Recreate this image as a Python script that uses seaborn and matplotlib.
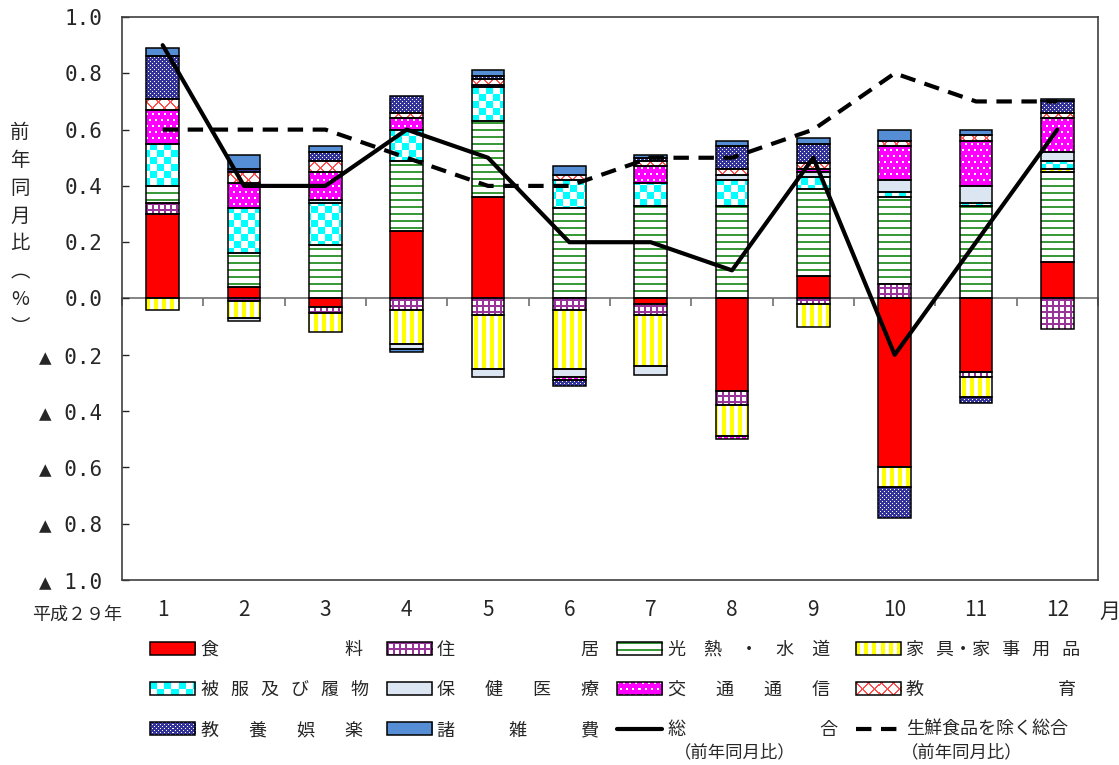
import numpy as np
import matplotlib
matplotlib.use("Agg")
import matplotlib.pyplot as plt
from matplotlib.patches import Rectangle, PathPatch
from matplotlib.path import Path
from matplotlib.lines import Line2D
from matplotlib.legend_handler import HandlerBase
from matplotlib.image import BboxImage
from matplotlib.transforms import Bbox, TransformedBbox
from matplotlib.colors import to_rgb
import seaborn as sns

# 前年同月比（%）, 平成29年
months = ['1', '2', '3', '4', '5', '6', '7', '8', '9', '10', '11', '12']

food      = [0.30, 0.04, -0.03, 0.24, 0.36, 0.00, -0.02, -0.33, 0.08, -0.60, -0.26, 0.13]
housing   = [0.04, -0.01, -0.02, -0.04, -0.06, -0.04, -0.04, -0.05, -0.02, 0.05, -0.02, -0.11]
utilities = [0.06, 0.12, 0.19, 0.25, 0.27, 0.32, 0.33, 0.33, 0.31, 0.31, 0.33, 0.32]
furniture = [-0.04, -0.06, -0.07, -0.12, -0.19, -0.21, -0.18, -0.11, -0.08, -0.07, -0.07, 0.01]
clothing  = [0.15, 0.16, 0.15, 0.11, 0.12, 0.10, 0.08, 0.09, 0.04, 0.02, 0.01, 0.03]
medical   = [0.00, -0.01, 0.01, -0.02, -0.03, -0.03, -0.03, 0.02, 0.02, 0.04, 0.06, 0.03]
transport = [0.12, 0.09, 0.10, 0.04, 0.01, -0.01, 0.06, -0.01, 0.01, 0.12, 0.16, 0.12]
education = [0.04, 0.04, 0.04, 0.02, 0.02, 0.02, 0.02, 0.02, 0.02, 0.02, 0.02, 0.02]
culture   = [0.15, 0.01, 0.03, 0.06, 0.01, -0.02, 0.01, 0.08, 0.07, -0.11, -0.02, 0.04]
misc      = [0.03, 0.05, 0.02, -0.01, 0.02, 0.03, 0.01, 0.02, 0.02, 0.04, 0.02, 0.01]

total = [0.9, 0.4, 0.4, 0.6, 0.5, 0.2, 0.2, 0.1, 0.5, -0.2, 0.2, 0.6]
core  = [0.6, 0.6, 0.6, 0.5, 0.4, 0.4, 0.5, 0.5, 0.6, 0.8, 0.7, 0.7]

yticks = [-1.0, -0.8, -0.6, -0.4, -0.2, 0.0, 0.2, 0.4, 0.6, 0.8, 1.0]
ytick_labels = ['▲ 1.0', '▲ 0.8', '▲ 0.6', '▲ 0.4', '▲ 0.2', '0.0',
                '0.2', '0.4', '0.6', '0.8', '1.0']

S = '\u3000'
series = [
    (food,      '食' + S * 7 + '料',           'solid',   '#FF0000'),
    (housing,   '住' + S * 7 + '居',           'grid',    '#993399'),
    (utilities, S.join('光熱・水道'),          'hlines',  '#3A9A3A'),
    (furniture, '家   具・家   事   用   品',   'vstripe', '#FFFF00'),
    (clothing,  '   '.join('被服及び履物'),    'checker', '#00FFFF'),
    (medical,   (S + '   ').join('保健医療'),  'solid',   '#DCE6F2'),
    (transport, (S + '   ').join('交通通信'),  'dots',    '#FF00FF'),
    (education, '教' + S * 7 + '  育',         'xlines',  '#FF5050'),
    (culture,   (S + '   ').join('教養娯楽'),  'fine',    '#333399'),
    (misc,      (S * 3).join('諸雑費'),        'solid',   '#558ED5'),
]


def texture(kind, color, h, w):
    i, j = np.indices((h, w))
    c = np.array(to_rgb(color))
    white = np.ones(3)
    if kind == 'solid':
        m = np.ones((h, w), bool)
    elif kind == 'grid':
        m = (i % 6 < 2) | (j % 6 < 2)
    elif kind == 'hlines':
        m = i % 7 < 2
    elif kind == 'vstripe':
        m = j % 8 < 4
    elif kind == 'checker':
        m = (i // 7 + j // 7) % 2 == 0
    elif kind == 'dots':
        m = ~((i % 6 < 2) & ((j + 3 * ((i // 6) % 2)) % 6 < 2))
    elif kind == 'xlines':
        m = ((i + j) % 12 < 2) | ((i - j) % 12 < 2)
    else:  # fine dotted
        m = ~(((i % 4 == 0) & (j % 4 == 0)) | ((i % 4 == 2) & (j % 4 == 2)))
    out = np.where(m[..., None], c, white)
    return out


class TextureKey:
    def __init__(self, kind, color):
        self.kind, self.color = kind, color


class TextureHandler(HandlerBase):
    def create_artists(self, legend, orig, xd, yd, w, h, fs, trans):
        bb = TransformedBbox(Bbox.from_bounds(-xd, -yd, w, h), trans)
        img = BboxImage(bb, interpolation='nearest')
        img.set_data(texture(orig.kind, orig.color, 13, 45))
        rect = Rectangle((-xd, -yd), w, h, facecolor='none', edgecolor='black',
                         linewidth=1.1, transform=trans)
        return [img, rect]


sns.set_theme(style="white")
plt.rcParams['font.family'] = ['Noto Sans CJK JP', 'DejaVu Sans']

fig = plt.figure(figsize=(11.19, 7.65), dpi=100)
ax = fig.add_axes([122 / 1119, 1 - 580 / 765, (1098 - 122) / 1119, (580 - 17) / 765])

x = np.arange(len(months))
width = 0.4
H, W = 563, 976

pos_base = np.zeros(len(months))
neg_base = np.zeros(len(months))
handles = []
for vals, label, kind, color in series:
    v = np.array(vals)
    bottom = np.where(v >= 0, pos_base, neg_base)
    idx = v != 0
    bars = ax.bar(x[idx], v[idx], width, bottom=bottom[idx], fill=False,
                  edgecolor='black', linewidth=1.1, zorder=3)
    paths = [p.get_path().transformed(p.get_patch_transform()) for p in bars]
    clip = PathPatch(Path.make_compound_path(*paths), transform=ax.transData)
    im = ax.imshow(texture(kind, color, H, W), extent=(-0.5, 11.5, -1, 1),
                   aspect='auto', interpolation='nearest', zorder=2)
    im.set_clip_path(clip)
    pos_base += np.where(v > 0, v, 0)
    neg_base += np.where(v < 0, v, 0)
    handles.append(TextureKey(kind, color))

dash = (0, (3.7, 2.3))
sns.lineplot(x=x, y=total, color='black', linewidth=3, ax=ax, zorder=5)
sns.lineplot(x=x, y=core, color='black', linewidth=3, linestyle=dash, ax=ax, zorder=5)

ax.set_xlim(-0.5, 11.5)
ax.set_ylim(-1, 1)
ax.set_yticks(yticks)
ax.set_yticklabels(ytick_labels)
for t in ax.get_yticklabels():
    t.set_fontfamily(['DejaVu Sans Mono', 'Noto Sans CJK JP'])
ax.set_xticks(x)
ax.set_xticklabels(months)
ax.tick_params(axis='y', direction='in', length=5, width=1, pad=14, labelsize=15, left=True)
ax.tick_params(axis='x', length=0, pad=14, labelsize=15)
for sp in ax.spines.values():
    sp.set_visible(True)
    sp.set_color('#404040')
    sp.set_linewidth(1.2)

# zero line with category boundary ticks
sec = ax.secondary_xaxis(0.5)
sec.set_alignment('bottom')
sec.set_xticks(np.arange(-0.5, 12, 1))
sec.set_xticklabels([])
sec.tick_params(axis='x', direction='out', length=6, width=1.2, color='#707070')
sec.spines['bottom'].set_color('#707070')
sec.spines['bottom'].set_linewidth(1.2)

fig.text(20 / 1119, 1 - 230 / 765, '\n'.join('前年同月比︵%︶'), ha='center', va='center',
         fontsize=14, linespacing=1.42)
fig.text(77 / 1119, 1 - 615 / 765, '平成２９年', ha='center', va='center', fontsize=13)
fig.text(1110 / 1119, 1 - 612 / 765, '月', ha='center', va='center', fontsize=15)

handles.append(Line2D([], [], color='black', linewidth=3))
handles.append(Line2D([], [], color='black', linewidth=3, linestyle=dash))
labels = [s[1] for s in series] + ['総' + S * 7 + '  合', '生鮮食品を除く総合']

order = [0, 4, 8, 1, 5, 9, 2, 6, 10, 3, 7, 11]
fig.legend([handles[i] for i in order], [labels[i] for i in order], ncol=4,
           loc='upper left', bbox_to_anchor=(150 / 1119, 1 - 641 / 765),
           frameon=False, fontsize=13, handlelength=2.5, handleheight=0.7,
           handletextpad=0.3, columnspacing=1.0, labelspacing=1.22,
           borderpad=0, borderaxespad=0,
           handler_map={TextureKey: TextureHandler()})

fig.text(735 / 1119, 1 - 752 / 765, '（前年同月比）', ha='center', va='center', fontsize=12.5)
fig.text(962 / 1119, 1 - 752 / 765, '（前年同月比）', ha='center', va='center', fontsize=12.5)

fig.savefig('out.png', dpi=100)
